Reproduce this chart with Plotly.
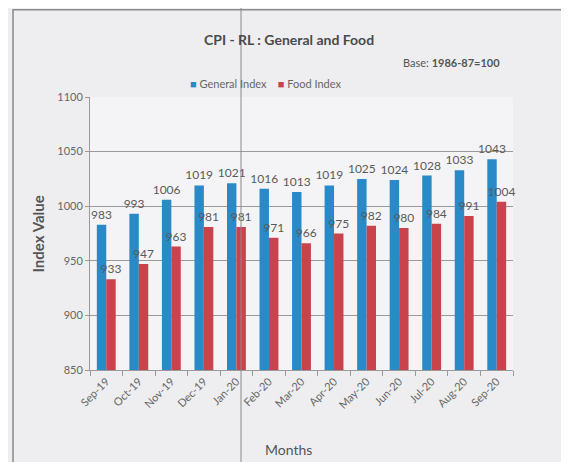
import plotly.graph_objects as go

months = ["Sep-19", "Oct-19", "Nov-19", "Dec-19", "Jan-20", "Feb-20", "Mar-20",
          "Apr-20", "May-20", "Jun-20", "Jul-20", "Aug-20", "Sep-20"]
general_index = [983, 993, 1006, 1019, 1021, 1016, 1013, 1019, 1025, 1024, 1028, 1033, 1043]
food_index = [933, 947, 963, 981, 981, 971, 966, 975, 982, 980, 984, 991, 1004]

FONT = "Lato"
LABEL_COLOR = "#5a5a5a"
BLUE = "#2a8ac8"
RED = "#c9434d"

fig = go.Figure()
fig.add_trace(go.Bar(
    x=months, y=general_index, name="General Index",
    marker=dict(color=BLUE, line=dict(width=0)),
    text=general_index, textposition="outside", cliponaxis=False, constraintext="none",
    textfont=dict(family=FONT, size=12, color=LABEL_COLOR),
))
fig.add_trace(go.Bar(
    x=months, y=food_index, name="Food Index",
    marker=dict(color=RED, line=dict(width=0)),
    text=food_index, textposition="outside", cliponaxis=False, constraintext="none",
    textfont=dict(family=FONT, size=12, color=LABEL_COLOR),
))

fig.update_layout(
    width=561, height=454,
    margin=dict(l=82, r=56, t=89, b=92),
    paper_bgcolor="#eeeef0", plot_bgcolor="#f4f4f6",
    barmode="group", bargap=0.42, bargroupgap=0,
    font=dict(family=FONT, color="#555555"),
    showlegend=False,
)
fig.update_yaxes(
    range=[850, 1100], dtick=50, showgrid=True, gridcolor="#9a9a9a", gridwidth=1,
    showline=True, linecolor="#9a9a9a", ticks="outside", ticklen=4, tickcolor="#9a9a9a",
    tickfont=dict(family=FONT, size=11, color="#666666"),
    zeroline=False, automargin=False,
)
fig.update_xaxes(
    showline=True, linecolor="#9a9a9a", ticks="outside", ticklen=5, tickcolor="#9a9a9a",
    tickson="boundaries", tickangle=-45,
    tickfont=dict(family=FONT, size=11, color="#666666"),
    automargin=False,
)

# legend (compact, as in the reference)
fig.add_annotation(
    text=(f"<span style='color:{BLUE}'>■</span> General Index"
          f"&nbsp;&nbsp;&nbsp;&nbsp;<span style='color:{RED}'>■</span> Food Index"),
    xref="paper", yref="paper", x=0.416, y=1.051, xanchor="center", yanchor="middle",
    showarrow=False, font=dict(family=FONT, size=11, color="#666666"),
)
# title
fig.add_annotation(
    text="<b>CPI - RL : General and Food</b>", xref="paper", yref="paper",
    x=0.47, y=1.209, xanchor="center", yanchor="middle", showarrow=False,
    font=dict(family=FONT, size=14, color="#4a4a4a"),
)
fig.add_annotation(
    text="Base: <b>1986-87=100</b>", xref="paper", yref="paper",
    x=0.974, y=1.125, xanchor="right", yanchor="middle", showarrow=False,
    font=dict(family=FONT, size=11, color="#555555"),
)
# axis titles
fig.add_annotation(
    text="<b>Index Value</b>", xref="paper", yref="paper", textangle=-90,
    x=-0.123, y=0.5, xanchor="center", yanchor="middle", showarrow=False,
    font=dict(family=FONT, size=15, color="#555555"),
)
fig.add_annotation(
    text="Months", xref="paper", yref="paper",
    x=0.47, y=-0.293, xanchor="center", yanchor="middle", showarrow=False,
    font=dict(family=FONT, size=14, color="#555555"),
)
# outer chart border
fig.add_shape(type="rect", xref="paper", yref="paper", x0=-0.182, x1=1.2, y0=-0.35, y1=1.32,
              line=dict(color="#8a8a8a", width=1.5), fillcolor="rgba(0,0,0,0)", layer="below")
# fold line visible in the scanned figure
fig.add_shape(type="line", xref="paper", yref="paper", x0=0.357, x1=0.357, y0=-0.35, y1=1.36,
              line=dict(color="#8a8a8a", width=1))

fig.write_html("out.html")
